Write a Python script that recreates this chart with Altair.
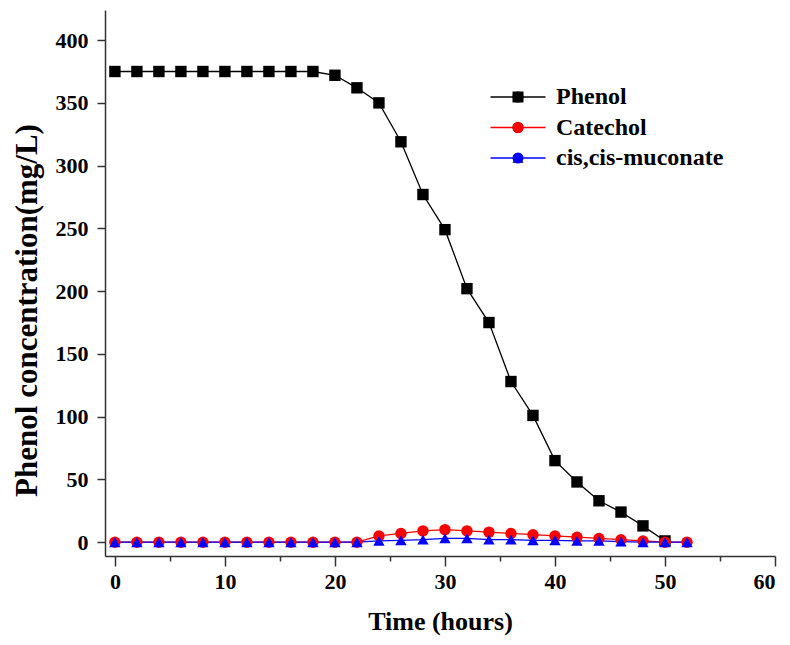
import altair as alt
import pandas as pd

series_names = ["Phenol", "Catechol", "cis,cis-muconate"]
colors = ["#000000", "#ff0000", "#0000ff"]
shapes = ["square", "circle", "triangle-up"]

time_phenol = [0, 2, 4, 6, 8, 10, 12, 14, 16, 18, 20, 22, 24, 26, 28, 30, 32, 34, 36, 38, 40, 42, 44, 46, 48, 50]
phenol = [375, 375, 375, 375, 375, 375, 375, 375, 375, 375, 372, 362, 350, 319, 277, 249, 202, 175, 128, 101, 65, 48, 33, 24, 13, 1]

time_other = [0, 2, 4, 6, 8, 10, 12, 14, 16, 18, 20, 22, 24, 26, 28, 30, 32, 34, 36, 38, 40, 42, 44, 46, 48, 50, 52]
catechol = [0, 0, 0, 0, 0, 0, 0, 0, 0, 0, 0, 0, 5, 7, 9, 10, 9, 8, 7, 6, 5, 4, 3, 2, 1, 0, 0]
muconate = [0, 0, 0, 0, 0, 0, 0, 0, 0, 0, 0, 0, 1, 1.5, 2, 3, 3, 2, 2, 1.5, 1.5, 1, 1, 0.5, 0, 0, 0]

x_ticks = [0, 5, 10, 15, 20, 25, 30, 35, 40, 45, 50, 55, 60]
y_ticks = [0, 25, 50, 75, 100, 125, 150, 175, 200, 225, 250, 275, 300, 325, 350, 375, 400]

rows = []
for t, v in zip(time_phenol, phenol):
    rows.append({"time": t, "value": v, "series": series_names[0]})
for t, v in zip(time_other, catechol):
    rows.append({"time": t, "value": v, "series": series_names[1]})
for t, v in zip(time_other, muconate):
    rows.append({"time": t, "value": v, "series": series_names[2]})
df = pd.DataFrame(rows)

FONT = "Liberation Serif"
AX = "#333333"

x_scale = alt.Scale(domain=[-0.9, 60], nice=False, zero=False)
y_scale = alt.Scale(domain=[-11, 424], nice=False, zero=False)

legend_common = dict(
    orient="none", legendX=401, legendY=75, title=None,
    symbolSize=121, labelFont=FONT, labelFontSize=24, labelFontWeight="bold",
    labelColor="#000000", labelOffset=26, rowPadding=6.5, padding=0,
    labelLimit=400,
)

x_axis = alt.Axis(
    orient="bottom", values=x_ticks,
    tickSize={"condition": {"test": "datum.value % 10 === 0", "value": 10}, "value": 5},
    tickWidth=1.5, tickColor=AX,
    domainColor=AX, domainWidth=1.5, labelFont=FONT, labelFontSize=22,
    labelFontWeight="bold", labelColor="#000000", labelPadding=5, grid=False,
    labelExpr="datum.value % 10 === 0 ? datum.label : ''",
    title="Time (hours)", titleFont=FONT, titleFontSize=26, titleFontWeight="bold",
    titleColor="#000000", titlePadding=16, format="d",
)
y_axis = alt.Axis(
    orient="left", values=y_ticks,
    tickSize={"condition": {"test": "datum.value % 50 === 0", "value": 8}, "value": 5},
    tickWidth=1.5, tickColor=AX,
    domainColor=AX, domainWidth=1.5, labelFont=FONT, labelFontSize=22,
    labelFontWeight="bold", labelColor="#000000", labelPadding=9, grid=False,
    labelExpr="datum.value % 50 === 0 ? datum.label : ''",
    title="Phenol concentration(mg/L)", titleFont=FONT, titleFontSize=31,
    titleFontWeight="bold", titleColor="#000000", titlePadding=12, titleY=300,
    format="d",
)

lines = alt.Chart(df).mark_line(strokeWidth=1.3).encode(
    x=alt.X("time:Q", scale=x_scale, axis=x_axis),
    y=alt.Y("value:Q", scale=y_scale, axis=y_axis),
    stroke=alt.Stroke(
        "series:N",
        scale=alt.Scale(domain=series_names, range=colors),
        legend=alt.Legend(symbolType="M-5,0H5", symbolStrokeWidth=1.5, **legend_common),
    ),
    detail="series:N",
)

points = alt.Chart(df).mark_point(filled=True, size=130, opacity=1).encode(
    x=alt.X("time:Q", scale=x_scale),
    y=alt.Y("value:Q", scale=y_scale),
    fill=alt.Fill(
        "series:N", sort=series_names, scale=alt.Scale(range=colors),
        legend=alt.Legend(labelOpacity=0, **legend_common),
    ),
    shape=alt.Shape(
        "series:N", sort=series_names, scale=alt.Scale(range=shapes),
        legend=alt.Legend(labelOpacity=0, **legend_common),
    ),
)

chart = alt.layer(lines, points).properties(
    width=670, height=546,
    background="white",
    autosize=alt.AutoSizeParams(type="none"),
    padding={"left": 97, "top": 2, "right": 5, "bottom": 85},
).configure_view(stroke=None)

chart.save("out.html", embed_options={"renderer": "svg", "actions": False})
